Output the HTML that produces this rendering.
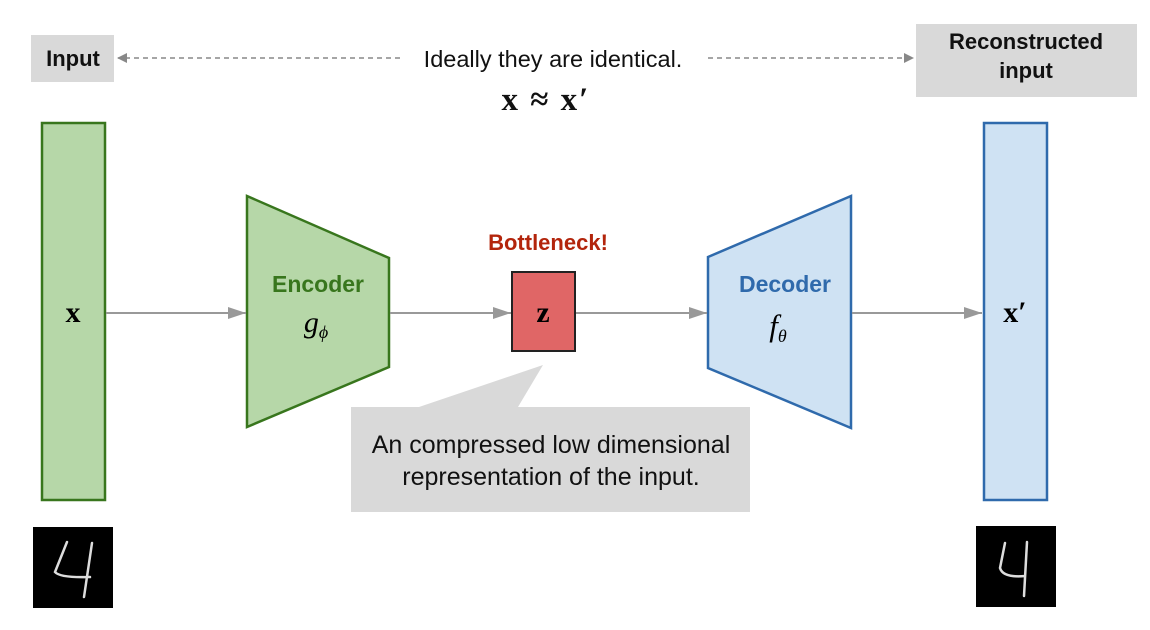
<!DOCTYPE html>
<html><head><meta charset="utf-8"><style>
html,body{margin:0;padding:0;background:#fff;}
svg{display:block;}
.s{font-family:"Liberation Sans",sans-serif;font-weight:bold;}
.m{font-family:"Liberation Serif","DejaVu Serif",serif;}
</style></head><body>
<svg width="1150" height="630" viewBox="0 0 1150 630" xmlns="http://www.w3.org/2000/svg">
<defs>
<marker id="a" markerWidth="10" markerHeight="10" refX="9" refY="5" orient="auto" markerUnits="userSpaceOnUse"><path d="M0,0 L10,5 L0,10 z" fill="#888"/></marker>
<marker id="b" markerWidth="20" markerHeight="12" refX="18" refY="6" orient="auto" markerUnits="userSpaceOnUse"><path d="M0,0 L18,6 L0,12 z" fill="#999"/></marker>
</defs>
<rect x="31" y="35" width="83" height="47" fill="#d9d9d9"/>
<text x="73" y="66" text-anchor="middle" class="s" font-size="22" fill="#111">Input</text>
<rect x="916" y="24" width="221" height="73" fill="#d9d9d9"/>
<text x="1026" y="49" text-anchor="middle" class="s" font-size="22" fill="#111">Reconstructed</text>
<text x="1026" y="78" text-anchor="middle" class="s" font-size="22" fill="#111">input</text>
<line x1="400" y1="58" x2="118" y2="58" stroke="#888" stroke-width="1.5" stroke-dasharray="5,4" marker-end="url(#a)"/>
<line x1="708" y1="58" x2="913" y2="58" stroke="#888" stroke-width="1.5" stroke-dasharray="5,4" marker-end="url(#a)"/>
<text x="553" y="67" text-anchor="middle" font-family="Liberation Sans,sans-serif" font-size="23.5" fill="#111">Ideally they are identical.</text>
<text x="546" y="110" text-anchor="middle" class="m" font-size="33" font-weight="bold" fill="#111" letter-spacing="2">x ≈ x′</text>
<rect x="42" y="123" width="63" height="377" fill="#b6d7a8" stroke="#38761d" stroke-width="2.5"/>
<text x="73" y="322" text-anchor="middle" class="m" font-size="30" font-weight="bold">x</text>
<rect x="984" y="123" width="63" height="377" fill="#cfe2f3" stroke="#2f6aac" stroke-width="2.5"/>
<text x="1015" y="322" text-anchor="middle" class="m" font-size="30" font-weight="bold">x′</text>
<polygon points="247,196 389,258 389,367 247,427" fill="#b6d7a8" stroke="#38761d" stroke-width="2.5"/>
<text x="318" y="292" text-anchor="middle" class="s" font-size="23" fill="#38761d">Encoder</text>
<text x="316" y="332" text-anchor="middle" class="m" font-size="30" font-style="italic">g<tspan font-size="18" dy="6">ϕ</tspan></text>
<polygon points="708,257 851,196 851,428 708,368" fill="#cfe2f3" stroke="#2f6aac" stroke-width="2.5"/>
<text x="785" y="292" text-anchor="middle" class="s" font-size="23" fill="#2f6aac">Decoder</text>
<text x="778" y="336" text-anchor="middle" class="m" font-size="31" font-style="italic">f<tspan font-size="18" dy="6">θ</tspan></text>
<text x="548" y="250" text-anchor="middle" class="s" font-size="22" fill="#b3250c">Bottleneck!</text>
<rect x="512" y="272" width="63" height="79" fill="#e06666" stroke="#222" stroke-width="2"/>
<text x="543" y="322" text-anchor="middle" class="m" font-size="30" font-weight="bold">z</text>
<line x1="106" y1="313" x2="246" y2="313" stroke="#999" stroke-width="2" marker-end="url(#b)"/>
<line x1="390" y1="313" x2="511" y2="313" stroke="#999" stroke-width="2" marker-end="url(#b)"/>
<line x1="576" y1="313" x2="707" y2="313" stroke="#999" stroke-width="2" marker-end="url(#b)"/>
<line x1="852" y1="313" x2="982" y2="313" stroke="#999" stroke-width="2" marker-end="url(#b)"/>
<polygon points="351,407 419,407 543,365 518,407 750,407 750,512 351,512" fill="#d9d9d9"/>
<text x="551" y="453" text-anchor="middle" font-family="Liberation Sans,sans-serif" font-size="25" fill="#111">An compressed low dimensional</text>
<text x="551" y="485" text-anchor="middle" font-family="Liberation Sans,sans-serif" font-size="25" fill="#111">representation of the input.</text>
<rect x="33" y="527" width="80" height="81" fill="#000"/>
<path d="M67,542 L55,572 Q60,578 90,577 M92,543 L84,597" stroke="#ddd" stroke-width="2.5" fill="none" stroke-linecap="round"/>
<rect x="976" y="526" width="80" height="81" fill="#000"/>
<path d="M1005,543 L1000,568 Q1003,578 1025,576 M1027,542 L1024,596" stroke="#ddd" stroke-width="2.5" fill="none" stroke-linecap="round"/>
</svg>
</body></html>
